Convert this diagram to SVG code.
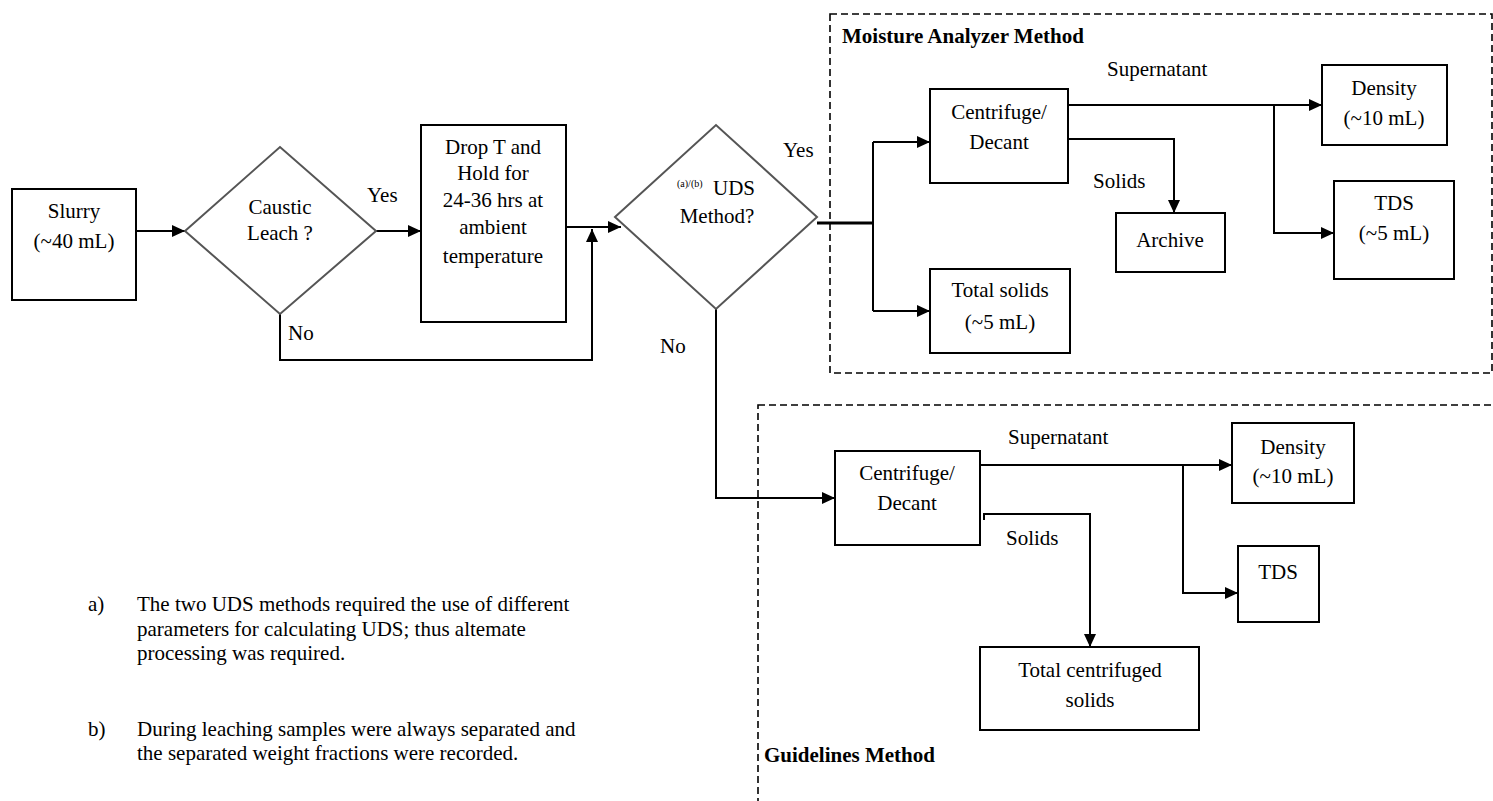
<svg xmlns="http://www.w3.org/2000/svg" width="1493" height="801" viewBox="0 0 1493 801">
<style>
  text{font-family:"Liberation Serif","Times New Roman",serif;font-size:21px;fill:#000}
  .c{text-anchor:middle}
  .b{font-weight:bold}
  .box{fill:#fff;stroke:#000;stroke-width:2}
  .dia{fill:#fff;stroke:#555;stroke-width:2}
  .ln{fill:none;stroke:#000;stroke-width:2}
  .ar{fill:none;stroke:#000;stroke-width:2;marker-end:url(#ah)}
  .dash{fill:none;stroke:#000;stroke-width:1.6;stroke-dasharray:7,4}
  .sup{font-size:10px}
</style>
<defs>
  <marker id="ah" viewBox="0 0 13 12" refX="13" refY="6" markerWidth="13" markerHeight="12" markerUnits="userSpaceOnUse" orient="auto">
    <path d="M0,0 L13,6 L0,12 Z" fill="#000"/>
  </marker>
</defs>
<rect width="1493" height="801" fill="#fff"/>

<g id="groups">
  <rect class="dash" x="830" y="14" width="662" height="359"/>
  <text class="b" x="842" y="43">Moisture Analyzer Method</text>
  <rect class="dash" x="758" y="405" width="800" height="500"/>
  <text class="b" x="764" y="762">Guidelines Method</text>
</g>

<g id="connectors">
  <path class="ar" d="M136,231 H185"/>
  <path class="ar" d="M376,231 H421"/>
  <path class="ar" d="M280,314 V360 H592 V229"/>
  <path class="ar" d="M566,227 H621"/>
  <path d="M817,223 H873" fill="none" stroke="#000" stroke-width="3"/>
  <path class="ln" d="M873,142 V311"/>
  <path class="ar" d="M873,142 H930"/>
  <path class="ar" d="M873,311 H930"/>
  <path class="ar" d="M1068,105 H1322"/>
  <path class="ar" d="M1274,105 V233 H1334"/>
  <path class="ar" d="M1068,139 H1174 V213"/>
  <path class="ar" d="M716,309 V498 H835"/>
  <path class="ar" d="M977,465 H1232"/>
  <path class="ar" d="M1183,465 V593 H1238"/>
  <path class="ar" d="M984,520 V514 H1090 V647"/>
  <text x="367" y="202">Yes</text>
  <text x="288" y="340">No</text>
  <text x="783" y="157">Yes</text>
  <text x="660" y="353">No</text>
  <text x="1107" y="76">Supernatant</text>
  <text x="1093" y="188">Solids</text>
  <text x="1008" y="444">Supernatant</text>
  <text x="1006" y="545">Solids</text>
</g>

<g id="slurry">
  <rect class="box" x="12" y="189" width="124" height="111"/>
  <text class="c" x="74" y="218">Slurry</text>
  <text class="c" x="74" y="248">(~40 mL)</text>
</g>
<g id="caustic">
  <polygon class="dia" points="185,231 280,147 376,231 280,314"/>
  <text class="c" x="280" y="214">Caustic</text>
  <text class="c" x="280" y="240">Leach ?</text>
</g>
<g id="drop">
  <rect class="box" x="421" y="125" width="145" height="197"/>
  <text class="c" x="493" y="154">Drop T and</text>
  <text class="c" x="493" y="180">Hold for</text>
  <text class="c" x="493" y="207">24-36 hrs at</text>
  <text class="c" x="493" y="234">ambient</text>
  <text class="c" x="493" y="263">temperature</text>
</g>
<g id="uds">
  <polygon class="dia" points="615,217 716,125 817,217 716,309"/>
  <text class="sup" x="677" y="187">(a)/(b)</text>
  <text x="713" y="195">UDS</text>
  <text class="c" x="717" y="223">Method?</text>
</g>
<g id="centrifuge1">
  <rect class="box" x="930" y="89" width="138" height="94"/>
  <text class="c" x="999" y="119">Centrifuge/</text>
  <text class="c" x="999" y="149">Decant</text>
</g>
<g id="totalsolids">
  <rect class="box" x="930" y="269" width="140" height="84"/>
  <text class="c" x="1000" y="297">Total solids</text>
  <text class="c" x="1000" y="329">(~5 mL)</text>
</g>
<g id="archive">
  <rect class="box" x="1116" y="213" width="109" height="59"/>
  <text class="c" x="1170" y="247">Archive</text>
</g>
<g id="density1">
  <rect class="box" x="1322" y="65" width="125" height="80"/>
  <text class="c" x="1384" y="95">Density</text>
  <text class="c" x="1384" y="125">(~10 mL)</text>
</g>
<g id="tds1">
  <rect class="box" x="1334" y="181" width="120" height="98"/>
  <text class="c" x="1394" y="210">TDS</text>
  <text class="c" x="1394" y="240">(~5 mL)</text>
</g>
<g id="centrifuge2">
  <rect class="box" x="835" y="451" width="145" height="94"/>
  <text class="c" x="907" y="480">Centrifuge/</text>
  <text class="c" x="907" y="510">Decant</text>
</g>
<g id="density2">
  <rect class="box" x="1232" y="423" width="122" height="80"/>
  <text class="c" x="1293" y="454">Density</text>
  <text class="c" x="1293" y="483">(~10 mL)</text>
</g>
<g id="tds2">
  <rect class="box" x="1238" y="546" width="81" height="76"/>
  <text class="c" x="1278" y="579">TDS</text>
</g>
<g id="totalcentrifuged">
  <rect class="box" x="980" y="647" width="219" height="83"/>
  <text class="c" x="1090" y="677">Total centrifuged</text>
  <text class="c" x="1090" y="707">solids</text>
</g>

<g id="notes">
  <text x="88" y="611">a)</text>
  <text x="137" y="611">The two UDS methods required the use of different</text>
  <text x="137" y="636">parameters for calculating UDS; thus altemate</text>
  <text x="137" y="660">processing was required.</text>
  <text x="88" y="736">b)</text>
  <text x="137" y="736">During leaching samples were always separated and</text>
  <text x="137" y="760">the separated weight fractions were recorded.</text>
</g>
</svg>
